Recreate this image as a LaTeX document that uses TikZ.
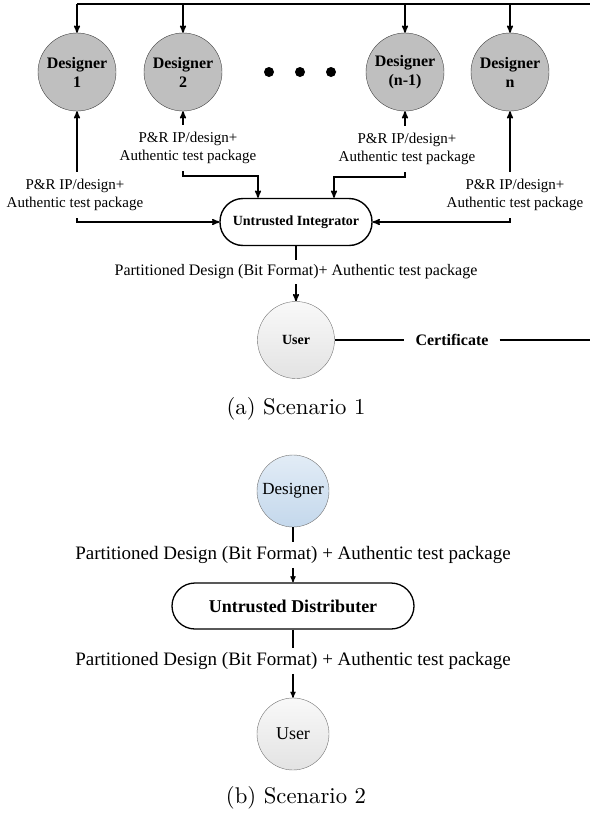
\documentclass[tikz,border=0pt]{standalone}
\usepackage{fontspec}
\usepackage{xcolor}
\usepackage{tikz}
\usetikzlibrary{arrows}
\newfontfamily\tnr{Liberation Serif}
\definecolor{desgray}{HTML}{BFBFBF}
\definecolor{rimgray}{HTML}{404040}
\definecolor{bluetop}{HTML}{E2ECF6}
\definecolor{bluebot}{HTML}{C4D8EC}
\newcommand{\capt}[1]{\scalebox{2.27}{#1}}

\begin{document}
\begin{tikzpicture}[x=1pt, y=1pt, >=stealth',
    designer/.style={circle, draw=rimgray, fill=desgray, minimum size=78pt, inner sep=0pt,
                     align=center, font=\tnr\bfseries\fontsize{16}{19}\selectfont},
    person/.style={circle, draw=gray!90!black, top color=gray!5, bottom color=gray!22,
                   minimum size=77pt, inner sep=0pt, font=\tnr\bfseries\fontsize{14}{17}\selectfont},
    pill/.style={rectangle, draw, line width=1.4pt, rounded corners=23pt, fill=white,
                 minimum width=152pt, minimum height=47pt, font=\tnr\bfseries\fontsize{14}{17}\selectfont},
    lbl/.style={align=center, inner sep=7pt, font=\tnr\fontsize{15}{18}\selectfont},
    bigdot/.style={circle, fill, minimum size=10pt, inner sep=0pt},
    caption/.style={font=\fontsize{10}{12}\selectfont},
    designertwo/.style={circle, draw=gray!90!black, top color=bluetop, bottom color=bluebot,
                        minimum size=72pt, inner sep=0pt, font=\tnr\fontsize{17}{20}\selectfont},
    persontwo/.style={circle, draw=gray!90!black, top color=gray!5, bottom color=gray!22,
                      minimum size=72pt, inner sep=0pt, font=\tnr\fontsize{18}{21}\selectfont},
    pilltwo/.style={rectangle, draw, line width=1.3pt, rounded corners=23pt, fill=white,
                    minimum width=242pt, minimum height=46pt, font=\tnr\bfseries\fontsize{18}{21}\selectfont},
    lbltwo/.style={inner sep=4pt, font=\tnr\fontsize{19}{23}\selectfont},
    link/.style={line width=1.5pt},
    arrow/.style={->, line width=1.5pt},
    linktwo/.style={line width=1.2pt},
    arrowtwo/.style={->, line width=1.2pt}]
    \useasboundingbox (0,0) rectangle (590,-814);

    \node[designer] (d1) at (77,-72) {Designer\\1};
    \node[designer, right of=d1, node distance=106pt] (d2) {Designer\\2};
    \node[bigdot, right of=d2, node distance=86pt] (dot1) {};
    \node[bigdot, right of=dot1, node distance=31pt] (dot2) {};
    \node[bigdot, right of=dot2, node distance=31pt] (dot3) {};
    \node[designer, right of=d2, node distance=222pt] (dn1) {Designer\\(n-1)};
    \node[designer, right of=dn1, node distance=105pt] (dn) {Designer\\n};
    \coordinate[above of=d1, node distance=68pt] (bus);
    \coordinate (busend) at (590,-4);

    \node[pill] (integ) at (296,-222) {Untrusted Integrator};
    \node[lbl, below of=d1, node distance=123pt, xshift=-2pt] (p1) {P\&R IP/design+\\Authentic test package};
    \node[lbl, below of=d2, node distance=76pt, xshift=5pt] (p2) {P\&R IP/design+\\Authentic test package};
    \node[lbl, below of=dn1, node distance=77pt, xshift=2pt] (p3) {P\&R IP/design+\\Authentic test package};
    \node[lbl, below of=dn, node distance=123pt, xshift=5pt] (p4) {P\&R IP/design+\\Authentic test package};
    \node[lbl, inner sep=5pt, below of=integ, node distance=50pt, font=\tnr\fontsize{16}{19}\selectfont] (part) {Partitioned Design (Bit Format)+ Authentic test package};
    \node[person, below of=integ, node distance=118pt] (u1) {User};
    \node[inner sep=11pt, right of=u1, node distance=156pt, font=\tnr\bfseries\fontsize{16}{19}\selectfont] (cert) {Certificate};
    \coordinate[right of=cert, node distance=138pt] (certend);
    \node[caption, below of=u1, node distance=69pt] (capa) {\capt{(a) Scenario 1}};

    \draw[link] (bus) -- (busend);
    \foreach \d in {d1,d2,dn1,dn}
        \draw[arrow] (bus -| \d) -- (\d);
    \draw[arrow] (p1.north -| d1) -- (d1);
    \draw[arrow] (p1.south -| d1) |- (integ);
    \draw[arrow] (p2.north -| d2) -- (d2);
    \draw[arrow] (p2.south -| d2) -- ++(0,-5) -| ([xshift=-38pt]integ.north);
    \draw[arrow] (p3.north -| dn1) -- (dn1);
    \draw[arrow] (p3.south -| dn1) -- ++(0,-5) -| ([xshift=38pt]integ.north);
    \draw[arrow] (p4.north -| dn) -- (dn);
    \draw[arrow] (p4.south -| dn) |- (integ);
    \draw[link] (integ) -- (part);
    \draw[arrow] (part) -- (u1);
    \draw[link] (u1) -- (cert) -- (certend);

    \node[designertwo, below of=capa, node distance=82pt, xshift=-3pt] (des) {Designer};
    \node[lbltwo, below of=des, node distance=64pt] (pd1) {Partitioned Design (Bit Format) + Authentic test package};
    \node[pilltwo, below of=des, node distance=115pt] (dist) {Untrusted Distributer};
    \node[lbltwo, below of=dist, node distance=55pt] (pd2) {Partitioned Design (Bit Format) + Authentic test package};
    \node[persontwo, below of=dist, node distance=128pt] (u2) {User};
    \node[caption, below of=u2, node distance=64pt, xshift=3pt] (capb) {\capt{(b) Scenario 2}};

    \draw[linktwo] (des) -- (pd1);
    \draw[arrowtwo] (pd1) -- (dist);
    \draw[linktwo] (dist) -- (pd2);
    \draw[arrowtwo] (pd2) -- (u2);
\end{tikzpicture}
\end{document}
